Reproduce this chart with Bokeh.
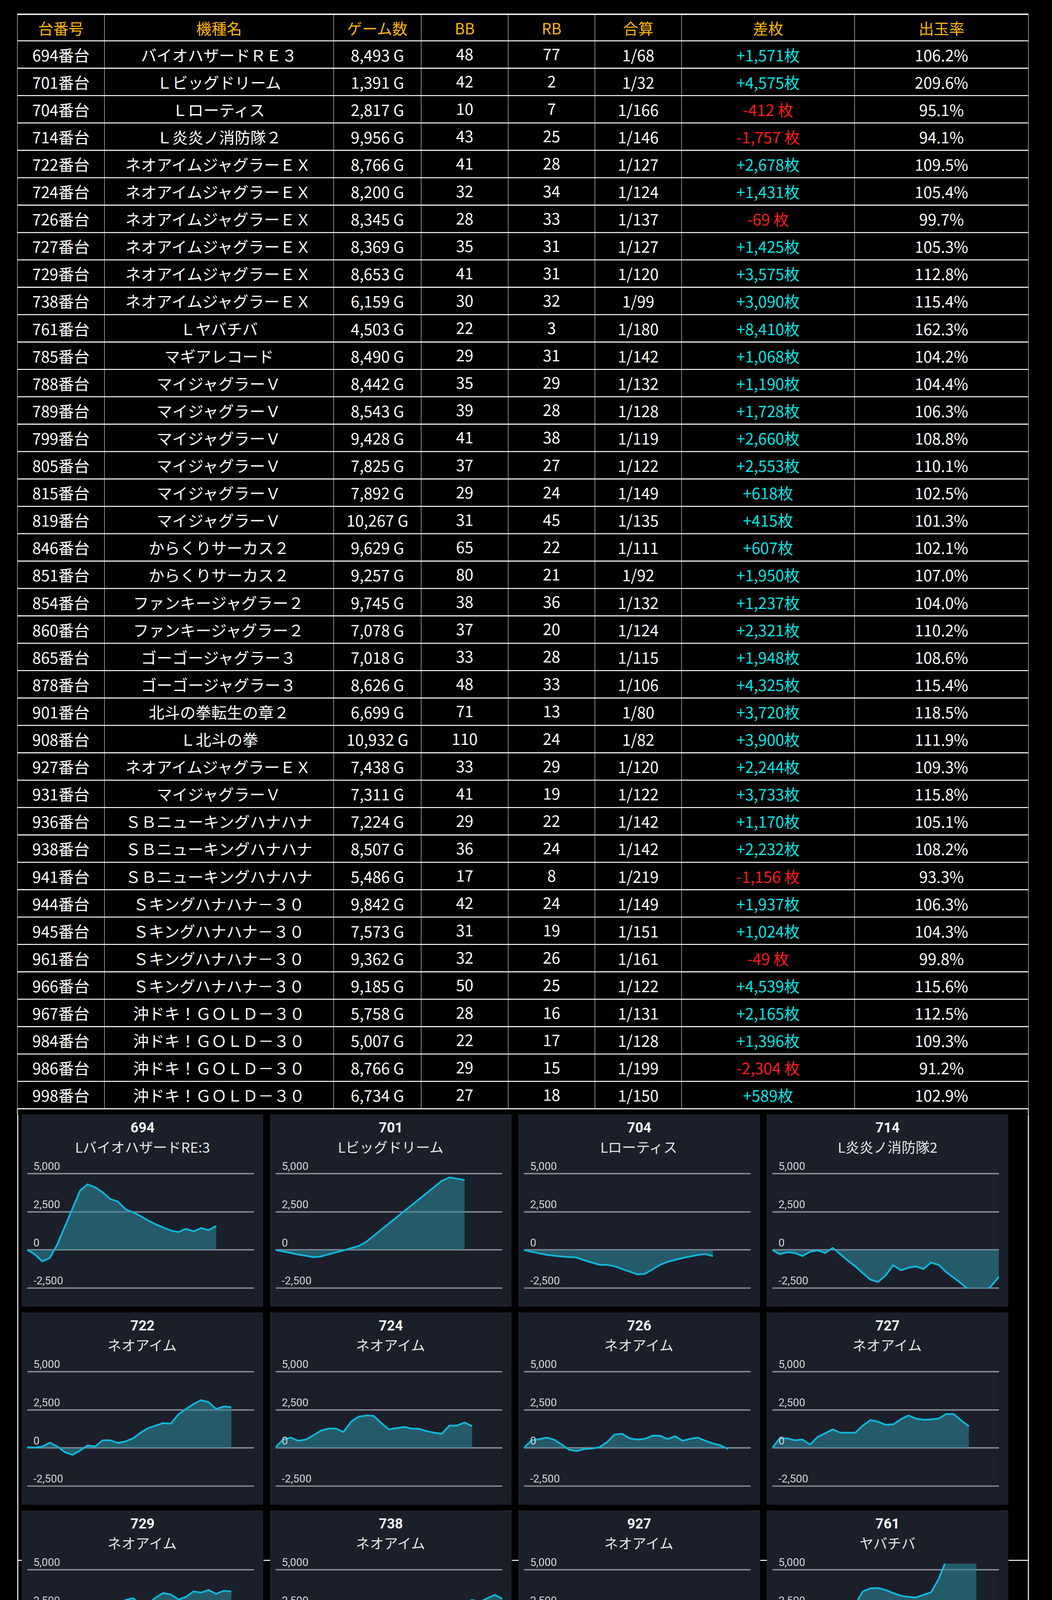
from bokeh.plotting import figure
from bokeh.layouts import column, row
from bokeh.models import Range1d, Label, Grid, FixedTicker, ColumnDataSource
from bokeh.core.properties import value
from bokeh.embed import file_html
from bokeh.resources import INLINE

# ---------------- table data ----------------
header = ["台番号", "機種名", "ゲーム数", "BB", "RB", "合算", "差枚", "出玉率"]
ids = [694, 701, 704, 714, 722, 724, 726, 727, 729, 738, 761, 785, 788, 789, 799, 805, 815, 819, 846, 851,
       854, 860, 865, 878, 901, 908, 927, 931, 936, 938, 941, 944, 945, 961, 966, 967, 984, 986, 998]
names = ["バイオハザードＲＥ３", "Ｌビッグドリーム", "Ｌローティス", "Ｌ炎炎ノ消防隊２",
         "ネオアイムジャグラーＥＸ", "ネオアイムジャグラーＥＸ", "ネオアイムジャグラーＥＸ", "ネオアイムジャグラーＥＸ",
         "ネオアイムジャグラーＥＸ", "ネオアイムジャグラーＥＸ", "Ｌヤバチバ", "マギアレコード",
         "マイジャグラーＶ", "マイジャグラーＶ", "マイジャグラーＶ", "マイジャグラーＶ", "マイジャグラーＶ", "マイジャグラーＶ",
         "からくりサーカス２", "からくりサーカス２", "ファンキージャグラー２", "ファンキージャグラー２",
         "ゴーゴージャグラー３", "ゴーゴージャグラー３", "北斗の拳転生の章２", "Ｌ北斗の拳",
         "ネオアイムジャグラーＥＸ", "マイジャグラーＶ",
         "ＳＢニューキングハナハナ", "ＳＢニューキングハナハナ", "ＳＢニューキングハナハナ",
         "Ｓキングハナハナ－３０", "Ｓキングハナハナ－３０", "Ｓキングハナハナ－３０", "Ｓキングハナハナ－３０",
         "沖ドキ！ＧＯＬＤ－３０", "沖ドキ！ＧＯＬＤ－３０", "沖ドキ！ＧＯＬＤ－３０", "沖ドキ！ＧＯＬＤ－３０"]
games = [8493, 1391, 2817, 9956, 8766, 8200, 8345, 8369, 8653, 6159, 4503, 8490, 8442, 8543, 9428, 7825, 7892, 10267,
         9629, 9257, 9745, 7078, 7018, 8626, 6699, 10932, 7438, 7311, 7224, 8507, 5486, 9842, 7573, 9362, 9185, 5758,
         5007, 8766, 6734]
bb = [48, 42, 10, 43, 41, 32, 28, 35, 41, 30, 22, 29, 35, 39, 41, 37, 29, 31, 65, 80, 38, 37, 33, 48, 71, 110, 33, 41,
      29, 36, 17, 42, 31, 32, 50, 28, 22, 29, 27]
rb = [77, 2, 7, 25, 28, 34, 33, 31, 31, 32, 3, 31, 29, 28, 38, 27, 24, 45, 22, 21, 36, 20, 28, 33, 13, 24, 29, 19, 22,
      24, 8, 24, 19, 26, 25, 16, 17, 15, 18]
gassan = [68, 32, 166, 146, 127, 124, 137, 127, 120, 99, 180, 142, 132, 128, 119, 122, 149, 135, 111, 92, 132, 124,
          115, 106, 80, 82, 120, 122, 142, 142, 219, 149, 151, 161, 122, 131, 128, 199, 150]
diff = [1571, 4575, -412, -1757, 2678, 1431, -69, 1425, 3575, 3090, 8410, 1068, 1190, 1728, 2660, 2553, 618, 415, 607,
        1950, 1237, 2321, 1948, 4325, 3720, 3900, 2244, 3733, 1170, 2232, -1156, 1937, 1024, -49, 4539, 2165, 1396,
        -2304, 589]
rate = [106.2, 209.6, 95.1, 94.1, 109.5, 105.4, 99.7, 105.3, 112.8, 115.4, 162.3, 104.2, 104.4, 106.3, 108.8, 110.1,
        102.5, 101.3, 102.1, 107.0, 104.0, 110.2, 108.6, 115.4, 118.5, 111.9, 109.3, 115.8, 105.1, 108.2, 93.3, 106.3,
        104.3, 99.8, 115.6, 112.5, 109.3, 91.2, 102.9]

# ---------------- panel data ----------------
panel_ids = [694, 701, 704, 714, 722, 724, 726, 727, 729, 738, 927, 761, 785, 788, 789, 799, 805, 815, 819, 931,
             846, 851, 854, 860, 865, 878, 901, 908, 936, 938, 941, 944, 945, 961, 966, 967, 984, 986, 998]
panel_names = ["LバイオハザードRE:3", "Lビッグドリーム", "Lローティス", "L炎炎ノ消防隊2",
               "ネオアイム", "ネオアイム", "ネオアイム", "ネオアイム", "ネオアイム", "ネオアイム", "ネオアイム", "ヤバチバ",
               "Lマギアレコード", "マイジャグV", "マイジャグV", "マイジャグV", "マイジャグV", "マイジャグV", "マイジャグV",
               "マイジャグV", "Lからくりサーカス2", "Lからくりサーカス2", "ファンキー2", "ファンキー2",
               "ゴージャグ3", "ゴージャグ3", "L北斗転生2", "スマスロ北斗",
               "ニューキングハナハナV-30", "ニューキングハナハナV-30", "ニューキングハナハナV-30", "キングハナハナ-30",
               "キングハナハナ-30", "キングハナハナ-30", "キングハナハナ-30", "沖ドキGOLD-30",
               "沖ドキGOLD-30", "沖ドキGOLD-30", "沖ドキGOLD-30"]
yticks = [5000, 2500, 0, -2500]
ytick_labels = ["5,000", "2,500", "0", "-2,500"]

s694 = [0, -280, -750, -530, 380, 1550, 2720, 3880, 4300, 4100, 3770, 3330, 3170, 2670, 2470, 2220, 1930, 1680, 1470, 1270, 1170, 1380, 1220, 1430, 1300, 1571]
s701 = [0, -100, -200, -300, -380, -480, -430, -290, -160, -30, 120, 260, 530, 930, 1330, 1730, 2130, 2530, 2930, 3330, 3730, 4130, 4530, 4750, 4670, 4575]
s704 = [0, -120, -220, -320, -380, -430, -470, -500, -680, -830, -970, -980, -1070, -1250, -1420, -1600, -1570, -1280, -980, -780, -650, -530, -430, -330, -270, -412]
s714 = [0, -280, -150, -200, -400, -120, -30, -200, 130, -280, -700, -1080, -1530, -1950, -2100, -1670, -1000, -1330, -1170, -1080, -1250, -830, -980, -1450, -1820, -2200, -2620, -2900, -2800, -2350, -1757]
s722 = [50, 20, 100, 350, 100, -280, -450, -170, 170, 100, 500, 500, 330, 430, 630, 1000, 1300, 1470, 1630, 1600, 2200, 2550, 2880, 3130, 3000, 2550, 2720, 2678]
s724 = [50, 550, 680, 470, 550, 830, 1130, 1270, 1270, 1050, 1720, 2050, 2130, 2100, 1630, 1220, 1300, 1380, 1270, 1250, 1100, 1000, 930, 1470, 1470, 1670, 1431]
s726 = [0, 500, 580, 680, 550, 220, -120, -200, -70, -30, 50, 380, 880, 930, 630, 550, 600, 800, 800, 580, 770, 470, 600, 680, 470, 300, 170, -69]
s727 = [0, 630, 630, 500, 550, 220, 720, 970, 1220, 1000, 1000, 1000, 1470, 1830, 1720, 1520, 1550, 1880, 2130, 1930, 1850, 1870, 1930, 2220, 2220, 1800, 1425]
s729 = [0, 470, 800, 1470, 1250, 1130, 1550, 1550, 1880, 2300, 2470, 2420, 2580, 3020, 3130, 2750, 2750, 3180, 3470, 3380, 3050, 3220, 3580, 3500, 3670, 3420, 3620, 3575]
s738 = [-30, 380, 880, 1330, 1170, 1420, 1380, 1300, 1630, 1930, 1880, 1750, 1800, 1630, 2220, 2500, 2470, 2380, 2380, 2720, 2800, 2630, 2380, 2420, 2630, 2830, 3020, 2880, 3130, 3350, 3090]
s927 = [0, -120, -30, 250, 0, -250, -580, -600, -620, -730, -880, -750, -370, -230, -200, 50, -30, -120, 170, 550, 800, 930, 1080, 1220, 880, 970, 1250, 1580, 1900]
s761 = [0, -270, -550, -820, -1080, -1050, -980, -920, -30, 1050, 2050, 2750, 3580, 3780, 3800, 3670, 3470, 3300, 3220, 3180, 3350, 3520, 4380, 5600, 7000, 8000, 8300, 8410]
s785 = [0, -450, -670, -1000, -1250, -1420, -1200, -1120, -950, -900, -850, -1030, -1150, -750, -450, 220, 580, 550, 750, 420, 80, -200, 120, 80, 300, 1068]
s788 = [0, 470, 350, 180, 250, 720, 1020, 630, 550, 720, 630, 550, 470, 300, 50, -370, -200, 130, 880, 1130, 1170, 1330, 1470, 1170, 970, 1520, 1400]
s789 = [0, 300, 420, 380, 630, 770, 770, 850, 1130, 1800, 2000, 1880, 1930, 2020, 1850, 1880, 2000, 1850, 2130, 2080, 1850, 1850, 1720, 1630, 1580, 1750, 1380, 1450]
s799 = [0, 170, 220, 250, 470, 220, -30, -200, 100, 80, 180, 380, 550, 300, 470, 520, 420, 830, 1250, 1180, 1180, 1380, 1250, 1130, 1080, 1130, 1170, 1720, 1920, 2080, 2500]
s805 = [0, 270, 230, 370, 520, 650, 720, 400, 480, 730, 780, 570, 730, 980, 730, 900, 1030, 1120, 1280, 1330, 1280, 1680, 1950, 2280, 2230, 2350, 2480, 2350, 2570, 2720, 2600]
s815 = [30, 320, 480, 350, 370, 400, 400, 230, 20, -270, -220, -20, -30, -150, 30, -130, -150, 70, 650, 900, 930, 920, 820, 770, 820, 680, 450, 550, 580, 730, 750]
s819 = [0, -50, -150, -270, -350, -180, -70, 180, -180, -350, -350, -220, -350, -350, -470, -570, -480, -350, -220, 150, -50, 70, 150, 620, 415]
s931 = [0, 320, 520, 820, 1200, 1120, 1730, 1820, 1820, 1880, 2150, 2150, 2250, 2320, 2420, 2350, 2120, 1980, 1980, 1730, 2070, 2450, 2400, 2280, 2480, 2820, 3080, 3620, 3733]
s846 = [0, -520, -220, 30, -300, -850, -1300, -1670, -1470, -2050, -2600, -2470, -2550, -2350, -1720, -1420, -1920, -2170, -2130, -2300, -2600, -2900, -3200, -3400, -3500, -3400, -3300, -3000, -1050]
s851 = [0, -580, 280, 1280, 2370, 2870, 4030, 4780, 5250, 5120, 4480, 3950, 3730, 3620, 3450, 4420, 4150, 4250, 4200, 4370, 4700, 4200, 3530, 3030, 2370, 2120, 1620, 1700, 1950]
s854 = [0, 420, 370, 670, 870, 900, 930, 620, 620, 620, 780, 1330, 1370, 1520, 1150, 780, 650, 630, 1030, 1080, 680, 1180, 1030, 1237]
s860 = [0, 280, 620, 620, 370, 250, 150, 70, 250, 420, -20, 120, 320, 580, 530, 870, 1250, 1280, 1250, 1480, 1280, 1450, 1650, 1920, 1950, 2080, 2150, 2200]
s865 = [0, -300, -120, 330, 530, 530, 630, 580, 330, 450, 580, 830, 780, 750, 1250, 1280, 1320, 1500, 1750, 1950, 1880, 1750, 1670, 1830, 1620, 1880, 1948]
s878 = [0, -420, -80, 780, 1280, 1170, 1200, 1670, 1280, 1500, 1830, 2120, 2200, 2580, 2670, 2720, 3000, 3280, 3620, 3500, 3920, 4220, 4420, 4920, 5280, 4800, 4750, 4630, 4450]
s901 = [0, -120, -170, -420, -450, -530, 670, 1580, 2330, 2920, 3830, 4670, 5250, 5600, 5700, 5600, 5250, 4670, 5220, 4750, 4550, 4530, 4170, 3870, 3720]
s908 = [0, 420, 1050, 830, 670, 1250, 1500, 1170, 1170, 1250, 780, 550, 330, -50, 670, 1580, 1280, 1000, 1670, 2080, 1830, 2000, 2000, 2450, 3330, 3900]
s936 = [50, -50, 250, 150, 200, -220, -530, -250, 170, 450, 620, 920, 1420, 1580, 1250, 1000, 880, 950, 920, 720, 720, 1170, 1380, 1220, 1050, 670, 1080, 750]
s938 = [0, 80, -170, -250, 170, 280, 670, 1580, 1280, 1120, 780, 1000, 1380, 1170, 920, 1500, 2050, 2370, 2450, 2200, 2050, 1800, 2330, 2500, 2380, 2220, 2250, 2232]
s941 = [0, 450, 450, 450, 450, 450, 280, 200, 170, 250, 450, 330, 200, 250, 130, 30, -80, -170, -280, -380, -330, -370, -450, -550, -750, -1000, -1156]
s944 = [0, 420, 1220, 920, 670, 380, 750, 920, 670, 920, 1620, 2050, 1950, 2200, 2500, 2580, 2500, 2950, 2870, 2720, 2370, 2420, 2220, 2000]
s945 = [0, -340, -640, -680, -560, -730, -800, -730, -1100, -1220, -850, -680, -800, -900, -960, -960, -810, -640, -510, -420, -290, -80, 220, 460, 760, 1010, 1130, 1200, 1150]
s961 = [0, -120, 80, 290, 290, 420, 680, 710, 790, 1050, 930, 680, 730, 810, 1100, 1220, 1010, 810, 710, 460, 80, -50, -340, -420, -140, 250, 420, 340, 250, -49]
s966 = [0, -120, -20, 250, 510, 570, 790, 1050, 1130, 1100, 1470, 1980, 2110, 2110, 2110, 2540, 3130, 3430, 3630, 3260, 3890, 3890, 3800, 4140, 4090, 4280, 4140, 4110, 4400, 4539]
s967 = [0, -290, 420, 760, 930, 510, 170, -120, -300, -420, -680, -1010, -1320, -1610, -1980, -2030, -1770, -1270, -880, -510, -80, 340, 790, 1220, 1520, 1690, 2165]
s984 = [0, -320, -540, -620, -740, -990, -1330, -1630, -1500, -1210, -1440, -1750, -1950, -2170, -2200, -1700, -1080, -490, 70, 600, 970, 1360, 1610, 1396]
s986 = [0, -400, -540, -990, -1210, -1660, -1830, -1750, -2220, -2250, -2120, -2500, -2800, -3000, -3200, -3300, -3400, -3300, -3200, -3100, -3200, -3100, -3000, -2900, -2800, -2700, -2304]
s998 = [0, -400, -820, -650, -30, -200, -540, -990, -1410, -1700, -1700, -1630, -1500, -600, -570, -650, -940, -1290, -1240, -1550, -1330, -990, -570, 20, 589]

series = {694: s694, 701: s701, 704: s704, 714: s714, 722: s722, 724: s724, 726: s726, 727: s727, 729: s729,
          738: s738, 927: s927, 761: s761, 785: s785, 788: s788, 789: s789, 799: s799, 805: s805, 815: s815,
          819: s819, 931: s931, 846: s846, 851: s851, 854: s854, 860: s860, 865: s865, 878: s878, 901: s901,
          908: s908, 936: s936, 938: s938, 941: s941, 944: s944, 945: s945, 961: s961, 966: s966, 967: s967,
          984: s984, 986: s986, 998: s998}

# ---------------- styling / geometry ----------------
JP = "Noto Sans CJK JP"
PAGE_W = 2678
TABLE_H = 2853
col_widths = [223, 587, 224, 223, 222, 222, 443, 445]
TABLE_LEFT = 44
TABLE_TOP = 36
HEAD_H = 68
ROW_H = 70.1

PANEL_W, PANEL_H = 618, 492
GAP_W, ROW_GAP = 18, 15
LEFT_W = 56
N_ROWS = 10
GRID_H = N_ROWS * PANEL_H + (N_ROWS - 1) * ROW_GAP
RIGHT_W = PAGE_W - LEFT_W - 4 * PANEL_W - 3 * GAP_W
FRAME_LINE_X_LEFT = 45          # outer white frame line, in strip pixels
FRAME_LINE_X_RIGHT = 51
FRAME_RULES = [1141, 2296, 3452]  # white rules behind the panels, px from the panel-grid top

PANEL_BG = "#1b1f2a"
LINE_C = "#0fb6da"
FILL_C = "#2d8a9c"
GRID_C = "#8a8d94"
CLIP_TOP, CLIP_BOTTOM = 5400, -2500
Y_TOP, Y_BOTTOM = 8865, -3729


def bare(width, height, xr, yr, bg):
    return figure(width=width, height=height, x_range=xr, y_range=yr, x_axis_type=None, y_axis_type=None,
                  output_backend="svg", toolbar_location=None, min_border=0, background_fill_color=bg,
                  border_fill_color=bg, outline_line_color=None)


# ---------------- table figure ----------------
tf = bare(PAGE_W, TABLE_H, Range1d(0, PAGE_W), Range1d(TABLE_H, 0), "black")

edges = [TABLE_LEFT]
for w in col_widths:
    edges.append(edges[-1] + w)
centers = [(edges[i] + edges[i + 1]) / 2 for i in range(len(col_widths))]
n = len(ids)
row_edges = [TABLE_TOP, TABLE_TOP + HEAD_H] + [TABLE_TOP + HEAD_H + ROW_H * (k + 1) for k in range(n)]
bottom = row_edges[-1]

tf.segment(x0=edges, y0=[TABLE_TOP] * len(edges), x1=edges, y1=[bottom] * len(edges),
           line_color="#d8d8d8", line_width=1.2)
tf.segment(x0=[edges[0], edges[-1]], y0=[bottom, bottom], x1=[edges[0], edges[-1]], y1=[TABLE_H, TABLE_H],
           line_color="white", line_width=2)
tf.segment(x0=[edges[0]] * len(row_edges), y0=row_edges, x1=[edges[-1]] * len(row_edges), y1=row_edges,
           line_color="white", line_width=2.6)
tf.segment(x0=[edges[0]], y0=[TABLE_TOP], x1=[edges[-1]], y1=[TABLE_TOP], line_color="white", line_width=3.5)

hy = TABLE_TOP + HEAD_H / 2
tf.text(x=centers, y=[hy] * len(header), text=header, text_align="center", text_baseline="middle",
        text_font=value(JP), text_font_size="39px", text_color="#ffb800")

tx, ty, tt, tc = [], [], [], []
for k in range(n):
    yc = TABLE_TOP + HEAD_H + ROW_H * (k + 0.5)
    d = diff[k]
    dtext = ("+{:,}枚".format(d)) if d >= 0 else ("-{:,} 枚".format(-d))
    cells = ["{}番台".format(ids[k]), names[k], "{:,} G".format(games[k]), str(bb[k]), str(rb[k]),
             "1/{}".format(gassan[k]), dtext, "{:.1f}%".format(rate[k])]
    for j, c in enumerate(cells):
        tx.append(centers[j])
        ty.append(yc)
        tt.append(c)
        if j == 6:
            tc.append("#00e6e6" if d >= 0 else "#ff1a1a")
        else:
            tc.append("white")
tsrc = ColumnDataSource(dict(x=tx, y=ty, text=tt, color=tc))
tf.text(x="x", y="y", text="text", text_color="color", source=tsrc, text_align="center",
        text_baseline="middle", text_font=value(JP), text_font_size="40px")


# ---------------- panels ----------------
def make_panel(pid, pname):
    vals = series[pid]
    p = figure(width=PANEL_W, height=PANEL_H, x_range=Range1d(0, 30), y_range=Range1d(Y_BOTTOM, Y_TOP),
               x_axis_type=None, y_axis_type=None, output_backend="svg", toolbar_location=None,
               min_border_left=13, min_border_right=24, min_border_top=0, min_border_bottom=0,
               background_fill_color=PANEL_BG, border_fill_color=PANEL_BG, outline_line_color=None,
               styles={"outline": "2px solid #373c47", "outline-offset": "-2px"})
    p.add_layout(Grid(dimension=1, ticker=FixedTicker(ticks=yticks), grid_line_color=GRID_C,
                      grid_line_width=3.5))
    xs = list(range(len(vals)))
    src = ColumnDataSource(dict(x=xs, y=vals, z=[0] * len(vals)))
    p.varea(x="x", y1="z", y2="y", source=src, fill_color=FILL_C, fill_alpha=0.55)
    p.line(x="x", y="y", source=src, line_color=LINE_C, line_width=4.5, line_join="round")
    # hide what lies outside the chart's value window (like the original's clipping)
    p.quad(left=[-1], right=[31], bottom=[CLIP_TOP], top=[Y_TOP + 500], fill_color=PANEL_BG, line_color=None)
    p.quad(left=[-1], right=[31], bottom=[Y_BOTTOM - 500], top=[CLIP_BOTTOM - 45], fill_color=PANEL_BG,
           line_color=None)
    for t, lab in zip(yticks, ytick_labels):
        p.add_layout(Label(x=0, y=t, x_offset=16, y_offset=9, text=lab, text_font="Roboto",
                           text_font_size="28px", text_color="#d2d4d8", text_baseline="bottom",
                           text_align="left"))
    p.add_layout(Label(x=15, y=5000, x_offset=5, y_offset=118, text=str(pid), text_font="Roboto",
                       text_font_style="bold", text_font_size="36px", text_color="#f2f2f2",
                       text_align="center", text_baseline="middle"))
    p.add_layout(Label(x=15, y=5000, x_offset=5, y_offset=69, text=pname, text_font=JP,
                       text_font_size="36px", text_color="#e4e4e4", text_align="center",
                       text_baseline="middle"))
    return p


def gap_fig(r, width):
    g = bare(width, PANEL_H, Range1d(0, width), Range1d(PANEL_H, 0), "black")
    top = r * (PANEL_H + ROW_GAP)
    ys = [y - top for y in FRAME_RULES if top <= y - 0 < top + PANEL_H]
    if ys:
        g.segment(x0=[0] * len(ys), y0=ys, x1=[width] * len(ys), y1=ys, line_color="white", line_width=2.5)
    return g


panels = [make_panel(pid, nm) for pid, nm in zip(panel_ids, panel_names)]
rows = []
for r in range(N_ROWS):
    items = []
    chunk = panels[4 * r:4 * r + 4]
    for c, pn in enumerate(chunk):
        if c > 0:
            items.append(gap_fig(r, GAP_W))
        items.append(pn)
    rows.append(row(items, spacing=0))
grid = column(rows, spacing=ROW_GAP)


def strip(width, line_x, rule_from, rule_to):
    s = bare(width, GRID_H, Range1d(0, width), Range1d(GRID_H, 0), "black")
    s.segment(x0=[line_x], y0=[0], x1=[line_x], y1=[GRID_H], line_color="white", line_width=2.5)
    s.segment(x0=[rule_from] * len(FRAME_RULES), y0=FRAME_RULES, x1=[rule_to] * len(FRAME_RULES),
              y1=FRAME_RULES, line_color="white", line_width=2.5)
    return s


left_strip = strip(LEFT_W, FRAME_LINE_X_LEFT, FRAME_LINE_X_LEFT, LEFT_W)
right_strip = strip(RIGHT_W, FRAME_LINE_X_RIGHT, 0, FRAME_LINE_X_RIGHT)
body = row([left_strip, grid, right_strip], spacing=0)
root = column([tf, body], spacing=0, styles={"background-color": "black"})

html = file_html(root, INLINE, title="chart")
html = html.replace("</head>", "<style>html,body{background-color:#000000;}</style></head>", 1)
open("out.html", "w").write(html)
